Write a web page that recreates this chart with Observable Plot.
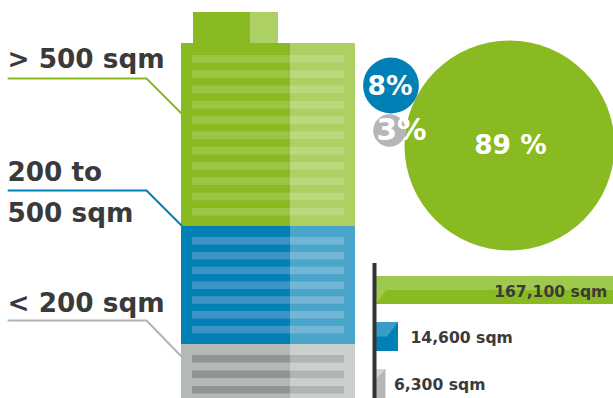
<!DOCTYPE html>
<html>
<head>
<meta charset="utf-8">
<script src="https://cdn.jsdelivr.net/npm/d3@7"></script>
<script src="https://cdn.jsdelivr.net/npm/@observablehq/plot@0.6"></script>
<style>
  html, body { margin: 0; padding: 0; background: #fff; overflow: hidden; }
  #wrap { position: relative; width: 613px; height: 398px; overflow: hidden; }
  #wrap svg { position: absolute; left: 0; top: 0; }
</style>
</head>
<body>
<div id="wrap"></div>
<script>
// ---------- DATA ----------
const categories = ["> 500 sqm", "200 to 500 sqm", "< 200 sqm"];
const categoryLines = [["> 500 sqm"], ["200 to", "500 sqm"], ["< 200 sqm"]];
const shares = [89, 8, 3];
const shareLabels = ["89 %", "8%", "3%"];
const areas = [167100, 14600, 6300];
const areaLabels = ["167,100 sqm", "14,600 sqm", "6,300 sqm"];

// ---------- LAYOUT & STYLE (not data) ----------
const W = 613, H = 398;
const palette = [
  {dark: "#8aba21", light: "#acd063", sDark: "#9cc545", sLight: "#bad87e", line: "#8aba21", circle: "#8aba21", barLight: "#9fc94d"},
  {dark: "#0080b4", light: "#4aa5cb", sDark: "#3e93c6", sLight: "#73b5d6", line: "#0080b4", circle: "#0080b4", barLight: "#3a9dc9"},
  {dark: "#b4b9b5", light: "#cbd0cc", sDark: "#8f9591", sLight: "#b1b5b2", line: "#b3b3b3", circle: "#b6b6b8", barLight: "#d2d2d2"}
];
const building = {x0: 181, xSplit: 290, x1: 355, stripeX0: 192, stripeX1: 344, stripeH: 7.6};
const cap = {x0: 193, xSplit: 250, x1: 278, y0: 12, y1: 43};
const floorTop = [43, 226, 344];
const floorBottom = [226, 344, 400];
const stripeStart = [55, 237, 355];
const stripeStep = [15.3, 14.8, 15.5];
const stripeCount = [11, 7, 3];
const leaderY = [78, 190, 320];
const leaderEndY = [113, 225, 356];
const labelBaselines = [[67], [180, 221.5], [311.5]];
const circleX = [509, 390.5, 389], circleY = [145, 85, 130];
const shareTextX = [510, 389.5, 376], shareTextY = [153, 94, 139];
const shareTextAnchor = ["middle", "middle", "start"];
const shareFont = [26.5, 26.5, 29.5];
const barTop = [276, 322, 369], barH = [28, 29, 30];
const barLabelDx = [-21, 12, 8];
const barLabelAnchor = ["end", "start", "start"];

// ---------- derived tables ----------
const idx = d3.range(categories.length);
const bodies = idx.flatMap(i => [
  {x1: building.x0, x2: building.xSplit, y1: floorTop[i], y2: floorBottom[i], fill: palette[i].dark},
  {x1: building.xSplit, x2: building.x1, y1: floorTop[i], y2: floorBottom[i], fill: palette[i].light}
]);
const stripes = idx.flatMap(i => d3.range(stripeCount[i]).flatMap(k => {
  const y = stripeStart[i] + k * stripeStep[i];
  return [
    {x1: building.stripeX0, x2: building.xSplit, y1: y, y2: y + building.stripeH, fill: palette[i].sDark},
    {x1: building.xSplit, x2: building.stripeX1, y1: y, y2: y + building.stripeH, fill: palette[i].sLight}
  ];
}));
const caps = [
  {x1: cap.x0, x2: cap.xSplit, y1: cap.y0, y2: cap.y1, fill: palette[0].dark},
  {x1: cap.xSplit, x2: cap.x1, y1: cap.y0, y2: cap.y1, fill: palette[0].light}
];
const leaders = idx.flatMap(i => [
  {cat: categories[i], x: 8, y: leaderY[i]},
  {cat: categories[i], x: 146, y: leaderY[i]},
  {cat: categories[i], x: building.x0, y: leaderEndY[i]}
]);
const labelRows = idx.flatMap(i => categoryLines[i].map((t, k) => ({text: t, x: 7, y: labelBaselines[i][k]})));
const circles = idx.map(i => ({share: shares[i], label: shareLabels[i], x: circleX[i], y: circleY[i], fill: palette[i].circle,
  tx: shareTextX[i], ty: shareTextY[i], anchor: shareTextAnchor[i], fs: shareFont[i]}));

const font = "'DejaVu Sans', sans-serif";

const main = Plot.plot({
  width: W, height: H,
  margin: 0,
  x: {domain: [0, W], range: [0, W], axis: null},
  y: {domain: [0, H], range: [0, H], axis: null},
  r: {type: "pow", exponent: 0.55, domain: [0, 89], range: [0, 105]},
  style: {background: "white", fontFamily: font},
  marks: [
    Plot.rect(caps, {x1: "x1", x2: "x2", y1: "y1", y2: "y2", fill: d => d.fill}),
    Plot.rect(bodies, {x1: "x1", x2: "x2", y1: "y1", y2: "y2", fill: d => d.fill}),
    Plot.rect(stripes, {x1: "x1", x2: "x2", y1: "y1", y2: "y2", fill: d => d.fill}),
    Plot.line(leaders, {x: "x", y: "y", z: "cat", stroke: d => palette[categories.indexOf(d.cat)].line, strokeWidth: 2}),
    Plot.text(labelRows, {x: "x", y: "y", text: "text", textAnchor: "start", lineAnchor: "bottom",
      fontSize: 26.3, fontWeight: "bold", fill: "#3a3a3a"}),
    Plot.dot(circles, {x: "x", y: "y", r: "share", fill: d => d.fill, stroke: null}),
    ...circles.map(c => Plot.text([c], {x: "tx", y: "ty", text: "label", textAnchor: c.anchor, lineAnchor: "bottom",
      fontSize: c.fs, fontWeight: "bold", fill: "white"}))
  ]
});

// bars plot
const barLeft = 376, barPx = 251.8; // pixel span of the largest value
const pxPerSqm = barPx / d3.max(areas);
const bars = idx.map(i => ({area: areas[i], label: areaLabels[i], y1: barTop[i], y2: barTop[i] + barH[i], i}));
const lightParts = [];
{
  const b = bars[0], mid = (b.y1 + b.y2) / 2;
  lightParts.push({g: 0, x: 0, y1: b.y1, y2: b.y2}, {g: 0, x: 10 / pxPerSqm, y1: b.y1, y2: mid},
                  {g: 0, x: b.area, y1: b.y1, y2: mid});
}
{
  const b = bars[1], mid = (b.y1 + b.y2) / 2;
  lightParts.push({g: 1, x: 0, y1: b.y1, y2: mid}, {g: 1, x: b.area - 11 / pxPerSqm, y1: b.y1, y2: mid},
                  {g: 1, x: b.area, y1: b.y1, y2: b.y1});
}
{
  const b = bars[2];
  lightParts.push({g: 2, x: 0, y1: b.y1, y2: b.y1 + 10}, {g: 2, x: b.area, y1: b.y1, y2: b.y1});
}

const barsPlot = Plot.plot({
  width: W, height: H,
  margin: 0,
  x: {domain: [0, d3.max(areas)], range: [barLeft, barLeft + barPx], axis: null},
  y: {domain: [0, H], range: [0, H], axis: null},
  style: {background: "transparent", fontFamily: font, overflow: "hidden"},
  marks: [
    Plot.rect(bars, {x1: 0, x2: "area", y1: "y1", y2: "y2", fill: d => palette[d.i].dark}),
    Plot.areaY(lightParts, {x: "x", y1: "y1", y2: "y2", z: "g", fill: d => palette[d.g].barLight, curve: "linear"}),
    Plot.ruleX([0], {y1: 263, y2: H + 2, stroke: "#333333", strokeWidth: 4, dx: -2}),
    ...bars.map((b, k) => Plot.text([b], {x: "area", y: b.y1 + 20.5, text: "label", dx: barLabelDx[k],
      textAnchor: barLabelAnchor[k], lineAnchor: "bottom", fontSize: 15.6, fontWeight: "bold", fill: "#3a3a3a"}))
  ]
});

document.getElementById("wrap").append(main, barsPlot);
</script>
</body>
</html>
